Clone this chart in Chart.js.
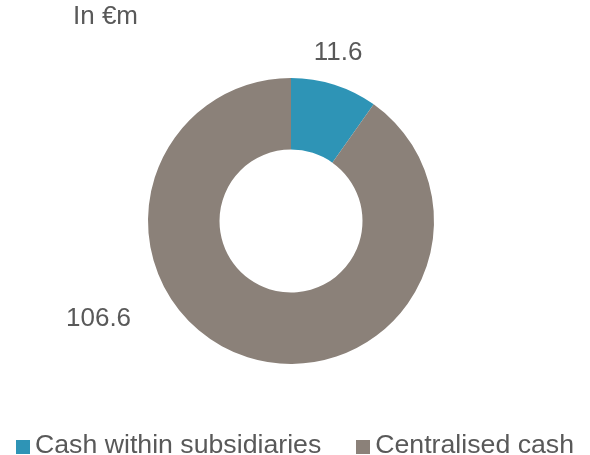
<!DOCTYPE html>
<html>
<head>
<meta charset="utf-8">
<script src="https://cdn.jsdelivr.net/npm/chart.js@4"></script>
<style>
  html, body { margin: 0; padding: 0; background: #fff; }
  #wrap { width: 590px; height: 455px; position: relative; overflow: hidden; }
  #legend {
    position: absolute; left: 0; top: 431px; width: 590px;
    display: flex; justify-content: center;
    font: 26.7px/26px "Liberation Sans", Arial, sans-serif; color: #595959;
  }
  .item { display: flex; align-items: flex-end; white-space: nowrap; }
  .item + .item { margin-left: 35px; }
  .box { width: 14px; height: 14px; margin-right: 5px; margin-bottom: 3px; }
</style>
</head>
<body>
<div id="wrap">
  <canvas id="cashChart" width="590" height="455"></canvas>
  <div id="legend"></div>
</div>
<script>
// Cash split, in EUR millions
const categories = ['Cash within subsidiaries', 'Centralised cash'];
const cashValues = [11.6, 106.6];
const sliceColors = ['#2E94B6', '#8B8179'];
const unitLabel = 'In €m';

// draws unit caption and the value labels around the ring
const ringLabels = {
    id: 'ringLabels',
    afterDatasetsDraw(chart, args, opts) {
        const ctx = chart.ctx;
        ctx.save();
        ctx.fillStyle = '#595959';
        ctx.font = '26px "Liberation Sans", Arial, sans-serif';
        ctx.textBaseline = 'middle';
        ctx.textAlign = 'left';
        ctx.fillText(unitLabel, 73, 17);

        ctx.textAlign = 'center';
        const arcs = chart.getDatasetMeta(0).data;
        arcs.forEach((arc, i) => {
            const p = arc.getProps(['x', 'y', 'startAngle', 'endAngle', 'outerRadius'], true);
            let angle = (p.startAngle + p.endAngle) / 2;
            if (opts.angles[i] !== null) angle = opts.angles[i] * Math.PI / 180;
            const r = p.outerRadius + opts.offsets[i];
            ctx.fillText(cashValues[i].toFixed(1), p.x + Math.cos(angle) * r, p.y + Math.sin(angle) * r);
        });
        ctx.restore();
    }
};

const chart = new Chart(document.getElementById('cashChart'), {
    type: 'doughnut',
    data: {
        labels: categories,
        datasets: [{
            data: cashValues,
            backgroundColor: sliceColors,
            borderWidth: 0,
            hoverOffset: 0
        }]
    },
    options: {
        responsive: false,
        animation: false,
        cutout: '50%',
        radius: 143,
        layout: { padding: { top: 0, right: 8, left: 0, bottom: 13 } },
        plugins: {
            tooltip: { enabled: false },
            legend: { display: false },
            ringLabels: {
                angles: [-74.4, 153],
                offsets: [32, 73]
            }
        }
    },
    plugins: [ringLabels]
});

// html legend, built from the same arrays
const legendEl = document.getElementById('legend');
categories.forEach((name, i) => {
    const item = document.createElement('div');
    item.className = 'item';
    item.innerHTML = `<span class="box" style="background:${sliceColors[i]}"></span><span>${name}</span>`;
    legendEl.appendChild(item);
});
</script>
</body>
</html>
